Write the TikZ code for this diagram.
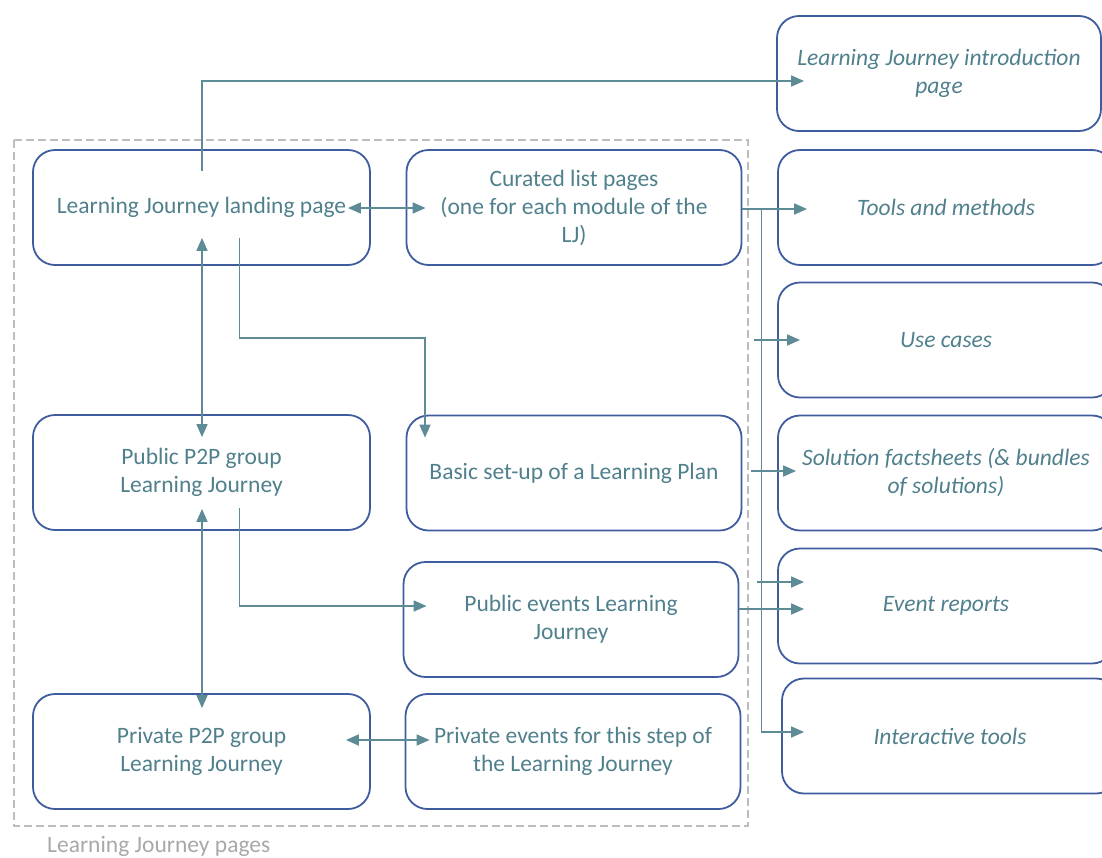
\documentclass[tikz,border=0pt]{standalone}
\usepackage{fontspec}
\setmainfont{Carlito}
\usetikzlibrary{arrows.meta,calc}
\definecolor{boxblue}{HTML}{3F5C9E}
\definecolor{linkteal}{HTML}{5E8C96}
\definecolor{txtteal}{HTML}{4F808C}
\definecolor{framegrey}{HTML}{BDBDBD}
\definecolor{labelgrey}{HTML}{A8A8A8}
\tikzset{
  pagebox/.style={draw=boxblue, line width=1.8pt, rounded corners=22pt,
    minimum height=115pt, inner sep=0pt, align=center, text=txtteal,
    font=\fontsize{23.5}{28}\selectfont},
  leftbox/.style={pagebox, minimum width=337pt},
  midbox/.style={pagebox, minimum width=335pt},
  outbox/.style={pagebox, minimum width=336pt, font=\fontsize{23.5}{28}\selectfont\itshape},
  link/.style={draw=linkteal, line width=1.7pt, -{Triangle[length=13pt,width=11pt]}},
  duallink/.style={link, {Triangle[length=13pt,width=11pt]}-{Triangle[length=13pt,width=11pt]}}
}
\begin{document}
\begin{tikzpicture}[x=1pt,y=-1pt]
\useasboundingbox (0,0) rectangle (1102,857);
\clip (0,0) rectangle (1102,857);

% group frame for the Learning Journey pages
\draw[framegrey, line width=2.8pt, dash pattern=on 8pt off 4pt] (14,140) rectangle (748,826);
\node[anchor=west, text=labelgrey, inner sep=0pt, font=\fontsize{23.5}{28}\selectfont] (grp) at (47,846) {Learning Journey pages};

% pages inside the group
\node[leftbox] (land)   at (201.5,207.5) {Learning Journey landing page};
\node[midbox]  (cur)    at (574,207.5)   {Curated list pages\\(one for each module of the\\LJ)};
\node[leftbox] (pub)    at (201.5,472.5) {Public P2P group\\Learning Journey};
\node[midbox]  (basic)  at (574,473)     {Basic set-up of a Learning Plan};
\node[midbox]  (pubev)  at (571,619.5)   {Public events Learning\\Journey};
\node[leftbox] (priv)   at (201.5,751.5) {Private P2P group\\Learning Journey};
\node[midbox]  (privev) at (573,751.5)   {Private events for this step of\\the Learning Journey};

% linked content on the right
\node[outbox, minimum width=324pt] (intro) at (939,73.5) {Learning Journey introduction\\page};
\node[outbox] (tools) at (946,207.5) {Tools and methods};
\node[outbox] (use)   at (946,340) {Use cases};
\node[outbox] (sol)   at (946,473) {Solution factsheets (\& bundles\\of solutions)};
\node[outbox] (evr)   at (946,606) {Event reports};
\node[outbox] (inter) at (950,736) {Interactive tools};

% connectors
\draw[link] ($(land.north)+(0.5,22)$) |- ($(intro.west)+(28,7.5)$);
\draw[duallink] ($(land.east)+(-23,0.5)$) -- ($(cur.west)+(20,0.5)$);
\draw[duallink] ($(land.south)+(0.5,-28)$) -- ($(pub.north)+(0.5,23)$);
\draw[link] ($(land.south)+(38,-28)$) -- ++(0,100) -| ($(basic.north)+(-149,23)$);
\draw[duallink] ($(pub.south)+(0.5,-22)$) -- ($(priv.north)+(0.5,15)$);
\draw[link] ($(pub.south)+(38,-23)$) |- ($(pubev.west)+(24,-13.5)$);
\draw[duallink] ($(priv.east)+(-25,-11.5)$) -- ($(privev.west)+(25,-11.5)$);

% distribution line from the curated list pages
\draw[link] ($(cur.east)+(0,1.5)$) -- ($(tools.west)+(30,1.5)$);
\coordinate (bustop) at ($(cur.east)+(19,1.5)$);
\draw[link] (bustop) |- ($(inter.west)+(23,-4)$);
\draw[link] ($(use.west)+(-23,0)$) -- ($(use.west)+(23,0)$);
\draw[link] ($(basic.east)+(9,-2)$) -- ($(sol.west)+(19,-2)$);
\draw[link] ($(evr.west)+(-20,-24)$) -- ($(evr.west)+(27,-24)$);
\draw[link] ($(pubev.east)+(0,-10.5)$) -- ($(evr.west)+(27,3)$);
\end{tikzpicture}
\end{document}
